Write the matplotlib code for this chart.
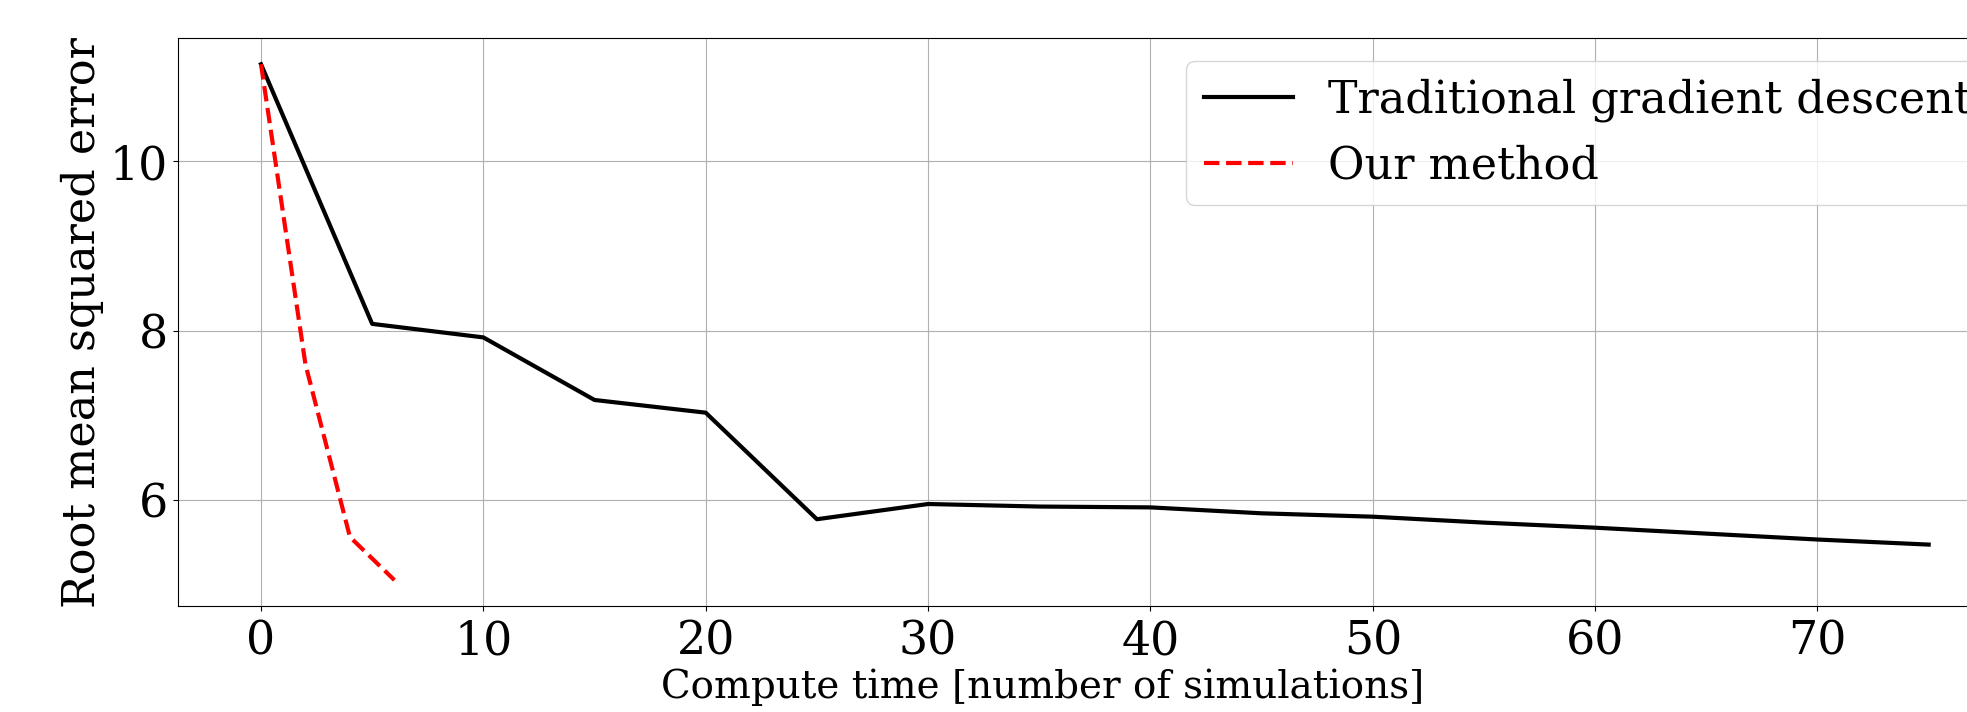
import matplotlib
matplotlib.use("Agg")
import matplotlib.pyplot as plt

plt.rcParams['font.family'] = ['DejaVu Serif']

gd_x = [0, 5, 10, 15, 20, 25, 30, 35, 40, 45, 50, 55, 60, 65, 70, 75]
gd_y = [11.15, 8.08, 7.92, 7.18, 7.03, 5.77, 5.95, 5.92, 5.91, 5.84, 5.80, 5.73, 5.67, 5.60, 5.53, 5.47]
our_x = [0, 2, 4, 6]
our_y = [11.15, 7.6, 5.56, 5.05]

fig = plt.figure(figsize=(19.67, 7.12), dpi=100)
ax = fig.add_axes([0.0903, 0.149, 0.9326, 0.797])
ax.plot(gd_x, gd_y, color='black', lw=3, label='Traditional gradient descent')
ax.plot(our_x, our_y, color='red', lw=3, ls='--', label='Our method')
ax.grid(True)
ax.set_xticks([0, 10, 20, 30, 40, 50, 60, 70])
ax.set_yticks([6, 8, 10])
ax.tick_params(labelsize=33)
ax.tick_params(axis='x', pad=6)
ax.set_xlabel('Compute time [number of simulations]', fontsize=28, labelpad=3)
ax.xaxis.label.set_x(0.4716)
ax.set_ylabel('Root mean squared error', fontsize=32)
ax.legend(loc='upper right', fontsize=32)
fig.savefig('out.png', dpi=100)
